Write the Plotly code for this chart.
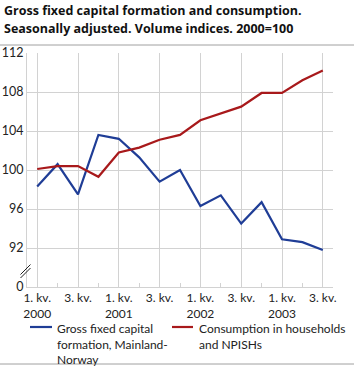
import plotly.graph_objects as go

quarters = ["2000K1","2000K2","2000K3","2000K4","2001K1","2001K2","2001K3","2001K4",
            "2002K1","2002K2","2002K3","2002K4","2003K1","2003K2","2003K3"]
gross_fixed = [98.3, 100.6, 97.5, 103.6, 103.2, 101.3, 98.8, 100.0, 96.3, 97.4, 94.5, 96.7, 92.9, 92.6, 91.8]
consumption = [100.1, 100.4, 100.4, 99.3, 101.8, 102.3, 103.1, 103.6, 105.1, 105.8, 106.5, 107.9, 107.9, 109.2, 110.2]
tick_labels = ["1. kv.<br>2000", "3. kv.", "1. kv.<br>2001", "3. kv.", "1. kv.<br>2002", "3. kv.", "1. kv.<br>2003", "3. kv."]
y_ticks = [88, 92, 96, 100, 104, 108, 112]
y_tick_text = ["0", "92", "96", "100", "104", "108", "112"]
series_names = ["Gross fixed capital<br>formation, Mainland-<br>Norway", "Consumption in households<br>and NPISHs"]
series_colors = ["#1f3d96", "#a8191b"]
title_lines = ["Gross fixed capital formation and consumption.",
               "Seasonally adjusted. Volume indices. 2000=100"]

W, H = 354, 366
ML, MR, MT, MB = 27, 21, 53, 79
PW, PH = W - ML - MR, H - MT - MB

def px_x(x):
    return (x - ML) / PW

def px_y(y):
    return (H - MB - y) / PH

xs = list(range(len(quarters)))
FONT = "Open Sans"
LFONT = "Lato"

fig = go.Figure()
for name, vals, col in zip(series_names, [gross_fixed, consumption], series_colors):
    fig.add_trace(go.Scatter(x=xs, y=vals, mode="lines", name=name,
                             line=dict(color=col, width=2.2), showlegend=False))

grid = "#d2d2d2"
fig.update_layout(
    width=W, height=H,
    margin=dict(l=ML, r=MR, t=MT, b=MB, autoexpand=False),
    paper_bgcolor="white", plot_bgcolor="white",
    font=dict(family=FONT, size=12, color="#222222"),
    xaxis=dict(range=[-0.5, 14.5], tickmode="array", tickvals=xs[::2], ticktext=tick_labels,
               showgrid=True, gridcolor=grid, gridwidth=1,
               showline=True, linecolor=grid, linewidth=1,
               ticks="inside", ticklen=4, tickcolor=grid,
               minor=dict(ticks="inside", ticklen=4, tickcolor=grid, dtick=1, tick0=0, showgrid=False),
               tickfont=dict(family=LFONT, size=12, color="#222222"), zeroline=False, fixedrange=True,
               automargin=False),
    yaxis=dict(range=[88, 112], tickmode="array", tickvals=y_ticks, ticktext=y_tick_text,
               showgrid=True, gridcolor=grid, gridwidth=1,
               showline=True, linecolor=grid, linewidth=1,
               ticks="", tickfont=dict(family=LFONT, size=12.5, color="#222222"), zeroline=False, fixedrange=True,
               automargin=False),
    showlegend=False,
)

# title
for t, yy in zip(title_lines, (10.5, 28.5)):
    fig.add_annotation(text="<b>" + t + "</b>", xref="paper", yref="paper",
                       x=px_x(2), y=px_y(yy), xanchor="left", yanchor="middle",
                       showarrow=False, font=dict(family=FONT, size=12.5, color="#111111"))

# separator lines (top under title, bottom)
for yy in (45, 364):
    fig.add_shape(type="line", xref="paper", yref="paper",
                  x0=px_x(0), x1=px_x(W), y0=px_y(yy), y1=px_y(yy),
                  line=dict(color="#a0a0a0", width=1))

# manual legend
for name, col, (lx0, lx1, tx) in zip(series_names, series_colors, [(30, 52, 55), (172, 193, 197)]):
    fig.add_shape(type="line", xref="paper", yref="paper",
                  x0=px_x(lx0), x1=px_x(lx1), y0=px_y(327), y1=px_y(327),
                  line=dict(color=col, width=2.2))
    fig.add_annotation(text=name, xref="paper", yref="paper",
                       x=px_x(tx), y=px_y(318.5), xanchor="left", yanchor="top", align="left",
                       showarrow=False, font=dict(family=LFONT, size=12, color="#222222"))

# axis break marks
for dy in (0, 3.5):
    fig.add_shape(type="line", xref="paper", yref="paper",
                  x0=px_x(20.5), y0=px_y(276 + dy - 1.5), x1=px_x(30.5), y1=px_y(266 + dy - 1.5),
                  line=dict(color="#222222", width=1))

fig.write_html("out.html")
